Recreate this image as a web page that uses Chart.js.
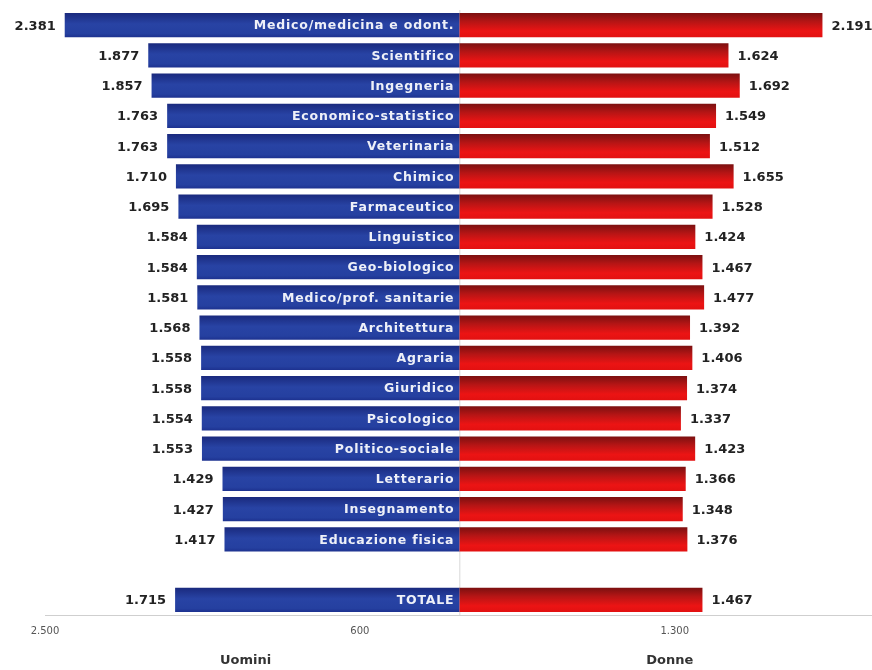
<!DOCTYPE html>
<html lang="it">
  <head>
    <meta charset="utf-8" />
    <style>
      html, body { margin: 0; padding: 0; background: #fff; }
      .chart { width: 872px; height: 670px; }
    </style>
  </head>
  <body>
    <div class="chart">
      <canvas id="myChart"></canvas>
    </div>

    <script src="https://cdn.jsdelivr.net/npm/chart.js@4/dist/chart.umd.min.js"></script>
    <script>
      // categorie (riga vuota prima del totale)
      var categories = [
        "Medico/medicina e odont.", "Scientifico", "Ingegneria", "Economico-statistico",
        "Veterinaria", "Chimico", "Farmaceutico", "Linguistico", "Geo-biologico",
        "Medico/prof. sanitarie", "Architettura", "Agraria", "Giuridico", "Psicologico",
        "Politico-sociale", "Letterario", "Insegnamento", "Educazione fisica", "", "TOTALE"
      ];
      var uomini = [2381, 1877, 1857, 1763, 1763, 1710, 1695, 1584, 1584, 1581,
                    1568, 1558, 1558, 1554, 1553, 1429, 1427, 1417, null, 1715];
      var donne = [2191, 1624, 1692, 1549, 1512, 1655, 1528, 1424, 1467, 1477,
                   1392, 1406, 1374, 1337, 1423, 1366, 1348, 1376, null, 1467];
      var tickValues = [-2500, -600, 1300];
      var sideTitles = ["Uomini", "Donne"];

      function fmt(v) {
        return String(Math.abs(v)).replace(/\B(?=(\d{3})+(?!\d))/g, ".");
      }

      function barGradient(context, stops) {
        const chart = context.chart;
        const y = chart.scales.y;
        if (!y || context.dataIndex === undefined) return stops[1][1];
        const yc = y.getPixelForValue(context.dataIndex);
        if (!isFinite(yc)) return stops[1][1];
        const g = chart.ctx.createLinearGradient(0, yc - 12, 0, yc + 12);
        stops.forEach((s) => g.addColorStop(s[0], s[1]));
        return g;
      }

      const labelsPlugin = {
        id: "labels",
        beforeDatasetsDraw(chart) {
          const { ctx, chartArea, scales } = chart;
          const x0 = scales.x.getPixelForValue(0);
          ctx.save();
          ctx.strokeStyle = "#d8d8d8";
          ctx.lineWidth = 1;
          ctx.beginPath();
          ctx.moveTo(x0 + 0.5, chartArea.top);
          ctx.lineTo(x0 + 0.5, chartArea.bottom);
          ctx.stroke();
          ctx.restore();
        },
        afterDatasetsDraw(chart) {
          const { ctx, scales } = chart;
          const x0 = scales.x.getPixelForValue(0);
          ctx.save();
          ctx.textBaseline = "middle";
          // valori
          ctx.font = "bold 13px 'DejaVu Sans'";
          ctx.fillStyle = "#222";
          chart.data.datasets.forEach((ds, di) => {
            chart.getDatasetMeta(di).data.forEach((bar, i) => {
              const v = ds.data[i];
              if (v == null) return;
              if (v < 0) {
                ctx.textAlign = "right";
                ctx.fillText(fmt(v), bar.x - 9, bar.y + 1);
              } else {
                ctx.textAlign = "left";
                ctx.fillText(fmt(v), bar.x + 9, bar.y + 1);
              }
            });
          });
          // categorie dentro le barre blu
          ctx.font = "bold 12.5px 'DejaVu Sans'";
          ctx.letterSpacing = "0.8px";
          ctx.fillStyle = "#eef0f8";
          ctx.textAlign = "right";
          chart.getDatasetMeta(0).data.forEach((bar, i) => {
            if (!categories[i]) return;
            ctx.fillText(categories[i], x0 - 5, bar.y + 1);
          });
          ctx.letterSpacing = "0px";
          // titoli sotto
          ctx.font = "bold 13px 'DejaVu Sans'";
          ctx.fillStyle = "#333";
          ctx.textAlign = "center";
          ctx.fillText(sideTitles[0], scales.x.getPixelForValue(-1290), 661);
          ctx.fillText(sideTitles[1], scales.x.getPixelForValue(1270), 661);
          ctx.restore();
        },
      };

      new Chart(document.getElementById("myChart"), {
        type: "bar",
        data: {
          labels: categories,
          datasets: [
            {
              label: sideTitles[0],
              data: uomini.map((v) => (v == null ? null : -v)),
              backgroundColor: (c) =>
                barGradient(c, [[0, "#1a2a7e"], [0.45, "#2843a4"], [0.85, "#2540a0"], [1, "#1d3290"]]),
              borderWidth: 0,
            },
            {
              label: sideTitles[1],
              data: donne,
              backgroundColor: (c) =>
                barGradient(c, [[0, "#7c1010"], [0.35, "#b51515"], [0.75, "#ec1414"], [1, "#e21111"]]),
              borderWidth: 0,
            },
          ],
        },
        options: {
          indexAxis: "y",
          responsive: true,
          maintainAspectRatio: false,
          animation: false,
          barPercentage: 0.8,
          categoryPercentage: 1,
          layout: { padding: { left: 45, right: 0, top: 10, bottom: 23 } },
          plugins: { legend: { display: false }, tooltip: { enabled: false } },
          scales: {
            x: {
              stacked: true,
              min: -2500,
              max: 2490,
              afterBuildTicks: (scale) => {
                scale.ticks = tickValues.map((v) => ({ value: v }));
              },
              grid: { display: false, drawTicks: false },
              border: { display: true, color: "#cfcfcf", width: 1 },
              ticks: {
                padding: 10,
                color: "#555",
                font: { family: "'DejaVu Sans'", size: 10 },
                maxRotation: 0,
                autoSkip: false,
                callback: (v) => fmt(v),
              },
            },
            y: {
              stacked: true,
              display: false,
            },
          },
        },
        plugins: [labelsPlugin],
      });
    </script>
  </body>
</html>
